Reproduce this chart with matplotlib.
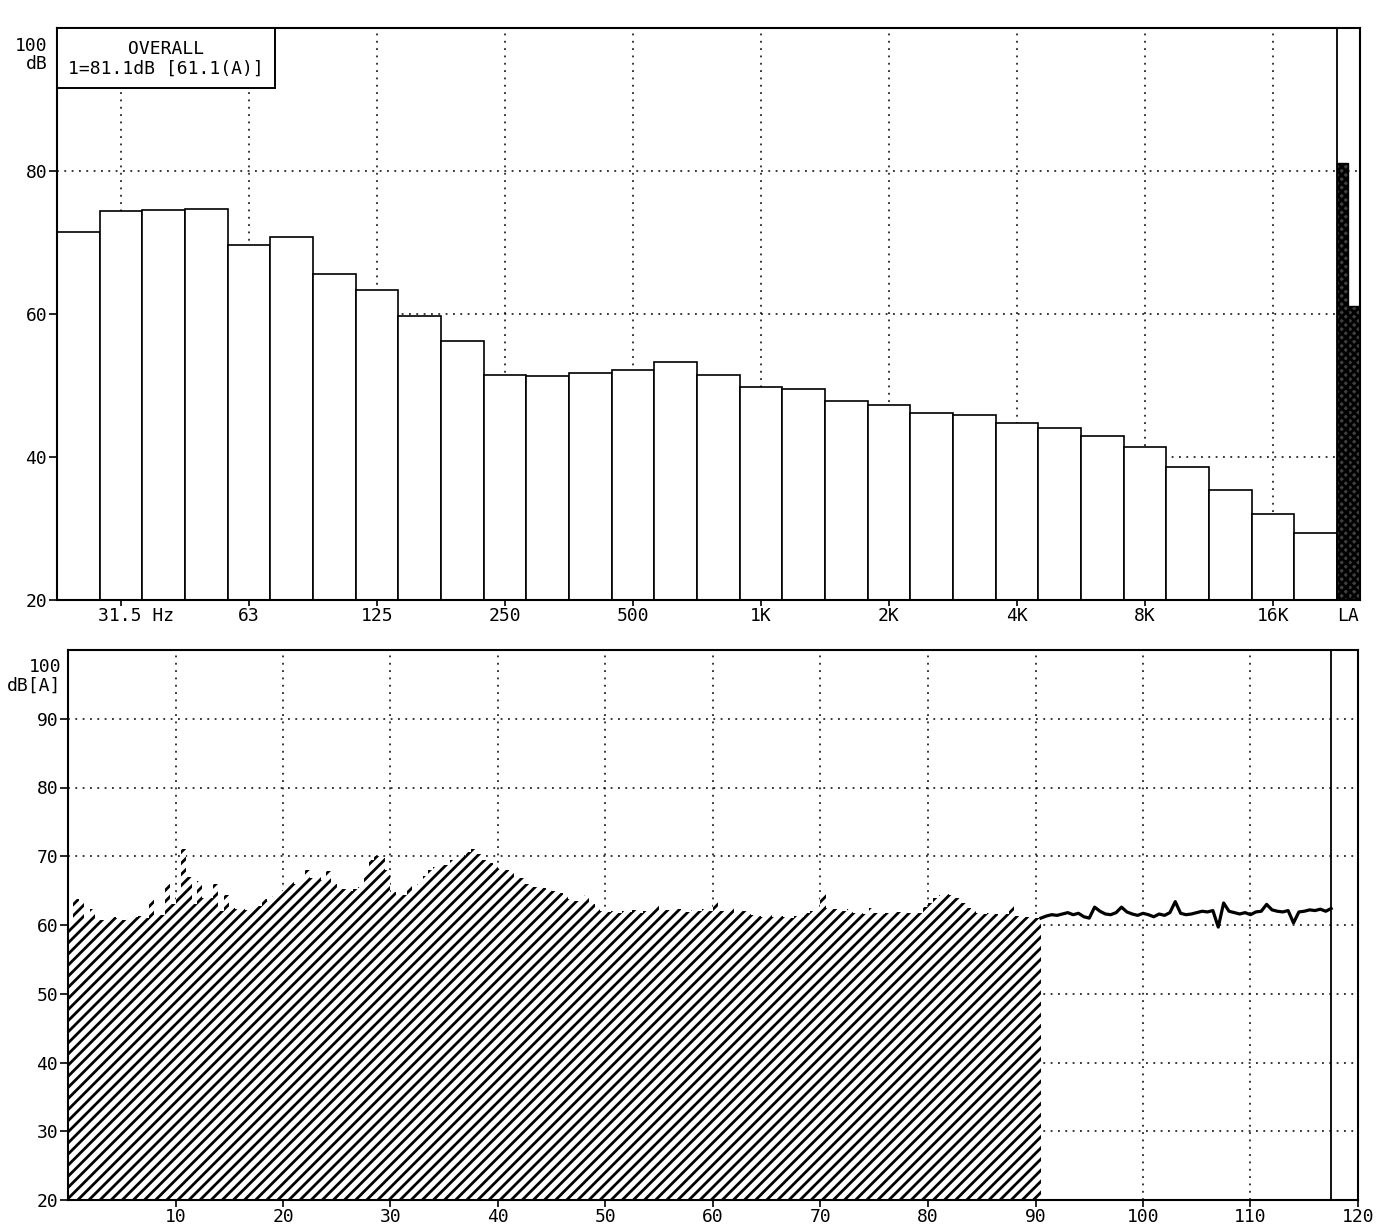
import numpy as np
import matplotlib.pyplot as plt
from matplotlib.patches import Rectangle

plt.rcParams['font.family'] = ['DejaVu Sans Mono']
plt.rcParams['hatch.linewidth'] = 2.0

# third-octave spectrum (dB, linear)
band_names = ['25', '31.5', '40', '50', '63', '80', '100', '125', '160', '200',
              '250', '315', '400', '500', '630', '800', '1K', '1.25K', '1.6K', '2K',
              '2.5K', '3.15K', '4K', '5K', '6.3K', '8K', '10K', '12.5K', '16K', '20K']
band_db = [71.4, 74.4, 74.6, 74.7, 69.7, 70.7, 65.6, 63.3, 59.7, 56.2,
           51.5, 51.3, 51.7, 52.2, 53.3, 51.5, 49.8, 49.5, 47.8, 47.3,
           46.2, 45.9, 44.7, 44.1, 43.0, 41.4, 38.6, 35.4, 32.0, 29.4]
octave_bands = ['31.5', '63', '125', '250', '500', '1K', '2K', '4K', '8K', '16K']
octave_labels = ['31.5 Hz', '63', '125', '250', '500', '1K', '2K', '4K', '8K', '16K']
overall_lin = 81.1
overall_a = 61.1

# time history dB(A), one value every 0.5 s
dt = 0.5
hist_stored = [
    60.5, 63.8, 63.5, 61.0, 62.3, 61.0, 60.8, 61.0, 61.2, 61.0,
    60.8, 60.9, 61.1, 61.3, 61.0, 64.0, 61.3, 61.5, 66.0, 63.0,
    64.8, 71.0, 67.0, 63.0, 66.4, 63.9, 64.0, 66.0, 62.0, 64.3,
    62.5, 62.3, 62.5, 62.2, 62.6, 62.8, 63.8, 63.5, 64.2, 65.0,
    65.8, 66.3, 66.0, 66.2, 68.0, 66.8, 67.0, 66.6, 67.8, 66.0,
    65.5, 65.2, 65.0, 65.3, 65.6, 67.5, 69.5, 70.0, 69.8, 68.0,
    64.8, 64.4, 64.3, 65.8, 65.0, 66.0, 67.2, 68.0, 68.5, 68.7,
    68.8, 69.4, 69.8, 70.0, 70.6, 71.0, 70.4, 69.5, 69.0, 68.7,
    68.2, 68.0, 67.5, 67.0, 66.8, 66.0, 65.6, 65.5, 65.4, 65.3,
    65.0, 64.6, 64.2, 63.8, 63.5, 63.3, 64.4, 63.0, 62.5, 62.0,
    61.9, 62.1, 61.8, 62.0, 61.9, 62.2, 61.8, 62.0, 62.1, 63.0,
    62.0, 62.2, 62.0, 62.3, 62.1, 61.9, 62.2, 62.0, 62.3, 62.1,
    63.6, 62.0, 61.8, 62.6, 61.6, 62.0, 62.0, 61.5, 61.3, 61.2,
    61.4, 61.1, 61.3, 61.2, 61.0, 61.3, 61.2, 61.8, 62.1, 62.3,
    64.6, 62.5, 62.3, 62.2, 62.0, 62.4, 61.8, 61.7, 61.6, 62.5,
    61.7, 61.6, 61.8, 61.7, 61.9, 61.6, 61.8, 61.7, 61.8, 62.6,
    63.2, 64.0, 64.3, 64.5, 64.4, 64.0, 63.2, 62.5, 62.0, 61.8,
    61.6, 61.7, 61.6, 61.5, 61.6, 62.9, 61.3, 61.0, 61.1, 61.0,
    61.0,
]
hist_live = [
    61.0, 61.3, 61.5, 61.4, 61.6, 61.8, 61.5, 61.7, 61.2, 61.0,
    62.6, 62.0, 61.6, 61.5, 61.8, 62.6, 61.9, 61.6, 61.4, 61.7,
    61.5, 61.2, 61.6, 61.4, 61.8, 63.4, 61.7, 61.5, 61.6, 61.8,
    62.0, 61.9, 62.1, 59.7, 63.2, 62.0, 61.8, 61.6, 61.8, 61.5,
    61.9, 62.0, 63.0, 62.2, 62.0, 61.9, 62.1, 60.3, 61.9, 62.0,
    62.2, 62.1, 62.3, 62.0, 62.4,
]
time_ticks = [10, 20, 30, 40, 50, 60, 70, 80, 90, 100, 110, 120]

W, H = 1382, 1230
fig = plt.figure(figsize=(W / 100, H / 100), dpi=100)
dots = (0, (1.2, 3.6))
fs = 13

# ---------------- spectrum ----------------
ax1 = fig.add_axes([57 / W, 1 - 600 / H, (1360 - 57) / W, 572 / H])
nb = len(band_db)
la_w = 0.27
ax1.bar(np.arange(nb), np.array(band_db) - 20, bottom=20, width=1.0, align='edge',
        facecolor='white', edgecolor='black', linewidth=1.2, zorder=2)
ax1.bar([nb, nb + la_w], [overall_lin - 20, overall_a - 20], bottom=20, width=la_w,
        align='edge', facecolor='0.25', edgecolor='black', hatch='xxxx',
        linewidth=1.0, zorder=2)
ax1.axvline(nb, color='black', lw=1.3, zorder=3)
ax1.set_xlim(0, nb + 2 * la_w)
ax1.set_ylim(20, 100)

oct_x = [band_names.index(b) + 0.5 for b in octave_bands]
ax1.set_xticks(oct_x)
ax1.set_xticklabels([])
ax1.set_yticks([20, 40, 60, 80])
ax1.set_yticklabels(['20', '40', '60', '80'], fontsize=fs)
ax1.tick_params(axis='y', direction='out', length=6, width=1.2, pad=1)
ax1.tick_params(axis='x', direction='inout', length=8, width=1.2)
ax1.grid(True, color='black', linestyle=dots, linewidth=1.1)
ax1.set_axisbelow(True)
for x, lab in zip(oct_x, octave_labels):
    dx = 0.35 if 'Hz' in lab else 0
    ax1.text(x + dx, -0.012, lab, transform=ax1.get_xaxis_transform(),
             ha='center', va='top', fontsize=fs)
ax1.text(nb + la_w, -0.012, 'LA', transform=ax1.get_xaxis_transform(),
         ha='center', va='top', fontsize=fs)
ax1.text(-0.007, 0.985, '100\ndB', transform=ax1.transAxes, ha='right', va='top',
         ma='right', fontsize=fs, linespacing=1.0)

# overall box
ax1.add_patch(Rectangle((0, 1 - 0.105), 0.167, 0.105, transform=ax1.transAxes,
                        facecolor='white', edgecolor='black', lw=1.4, zorder=4))
ax1.text(0.0835, 1 - 0.036, 'OVERALL', transform=ax1.transAxes, ha='center',
         va='center', fontsize=fs, zorder=5)
ax1.text(0.0835, 1 - 0.072, f'1={overall_lin:.1f}dB [{overall_a:.1f}(A)]',
         transform=ax1.transAxes, ha='center', va='center', fontsize=fs, zorder=5)

# ---------------- time history ----------------
ax2 = fig.add_axes([68 / W, 1 - 1200 / H, (1358 - 68) / W, 550 / H])
edges = np.arange(len(hist_stored) + 1) * dt
ax2.stairs(hist_stored, edges, baseline=20, fill=True, facecolor='white',
           edgecolor='black', hatch='///', linewidth=0, zorder=2)
t_live = edges[-1] + np.arange(len(hist_live)) * dt
ax2.plot(t_live, hist_live, color='black', lw=2.3, zorder=3)
ax2.axvline(t_live[-1], color='black', lw=1.3, zorder=3)
ax2.set_xlim(0, 120)
ax2.set_ylim(20, 100)
ax2.set_xticks(time_ticks)
ax2.set_xticklabels([str(v) for v in time_ticks], fontsize=fs)
ax2.set_yticks([20, 30, 40, 50, 60, 70, 80, 90])
ax2.set_yticklabels(['20', '30', '40', '50', '60', '70', '80', '90'], fontsize=fs)
ax2.tick_params(axis='y', direction='out', length=6, width=1.2, pad=1)
ax2.tick_params(axis='x', direction='out', length=5, width=1.2, pad=1)
ax2.grid(True, color='black', linestyle=dots, linewidth=1.1)
ax2.set_axisbelow(True)
ax2.text(-0.005, 0.985, '100\ndB[A]', transform=ax2.transAxes, ha='right', va='top',
         ma='right', fontsize=fs, linespacing=1.0)

for ax in (ax1, ax2):
    for s in ax.spines.values():
        s.set_linewidth(1.5)

fig.savefig('out.png', dpi=100)
